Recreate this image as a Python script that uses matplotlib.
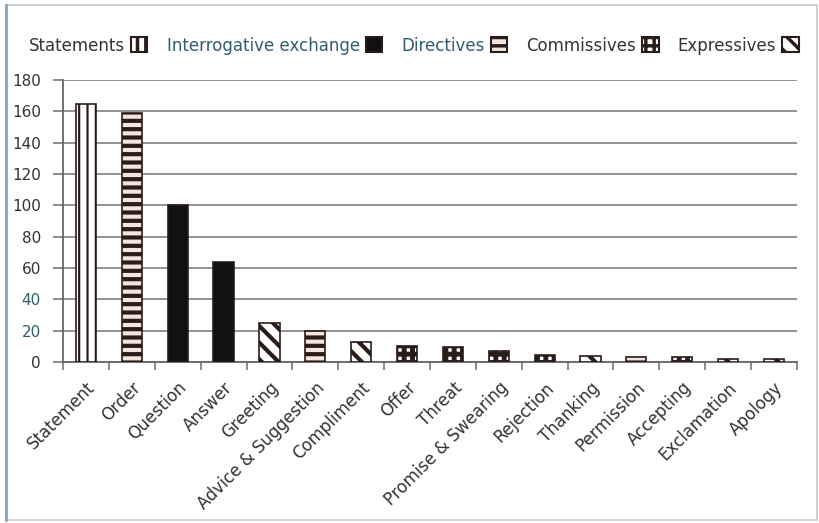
"""Frequency of speech-act categories, grouped by speech-act type."""

import matplotlib.pyplot as plt
import numpy as np
from matplotlib.patches import Patch, Rectangle

# Categories, their counts and the speech-act group each belongs to
categories = [
    "Statement", "Order", "Question", "Answer", "Greeting",
    "Advice & Suggestion", "Compliment", "Offer", "Threat",
    "Promise & Swearing", "Rejection", "Thanking", "Permission",
    "Accepting", "Exclamation", "Apology",
]
counts = [165, 159, 100, 64, 25, 20, 13, 10, 9.5, 7, 4.5, 3.5, 3, 3, 2, 2]
groups = [
    "Statements", "Directives", "Interrogative exchange", "Interrogative exchange",
    "Expressives", "Directives", "Expressives", "Commissives", "Commissives",
    "Commissives", "Commissives", "Expressives", "Directives",
    "Commissives", "Expressives", "Expressives",
]
legend_order = ["Statements", "Interrogative exchange", "Directives",
                "Commissives", "Expressives"]
yticks = [0, 20, 40, 60, 80, 100, 120, 140, 160, 180]

EDGE = "#2a1c18"
FILL = "#f3e6df"
# group -> (facecolor, hatch, hatch linewidth)
styles = {
    "Statements": ("white", "||", 1.6),
    "Interrogative exchange": ("#111111", None, 1.0),
    "Directives": (FILL, "--", 3.0),
    "Commissives": ("white", "++", 3.5),
    "Expressives": ("white", "\\\\", 3.0),
}

plt.rcParams["font.family"] = ["DejaVu Sans"]
plt.rcParams["hatch.linewidth"] = 2.5

fig = plt.figure(figsize=(8.19, 5.23), dpi=100)
ax = fig.add_axes([0.077, 0.308, 0.896, 0.539])

x = np.arange(len(categories))
for xi, val, grp in zip(x, counts, groups):
    face, hatch, hlw = styles[grp]
    bars = ax.bar(xi, val, width=0.44, color=face, edgecolor=EDGE,
                  linewidth=1.2, hatch=hatch, zorder=3)
    for b in bars:
        if hasattr(b, "set_hatch_linewidth"):
            b.set_hatch_linewidth(hlw)

ax.set_xlim(-0.5, len(categories) - 0.5)
ax.set_ylim(0, 180)
ax.set_yticks(yticks)
ax.yaxis.grid(True, color="#8a8a8a", linewidth=1.3, zorder=0)
ax.set_axisbelow(True)

ax.set_xticks(x)
ax.set_xticklabels(categories, rotation=45, ha="right",
                   rotation_mode="anchor", fontsize=12, color="#333333")
ax.set_xticks(np.arange(len(categories) + 1) - 0.5, minor=True)
ax.tick_params(axis="x", which="major", length=0, pad=12)
ax.tick_params(axis="x", which="minor", length=6, color="#777777", width=1.2)
ax.tick_params(axis="y", length=7, color="#777777", width=1.2,
               labelsize=11, labelcolor="#333333", pad=9)
for lbl in ax.get_yticklabels():
    if lbl.get_text() in ("20", "40"):
        lbl.set_color("#2f5f6e")

for side in ("top", "right"):
    ax.spines[side].set_visible(False)
for side in ("left", "bottom"):
    ax.spines[side].set_color("#666666")
    ax.spines[side].set_linewidth(1.3)

# Legend: label first, swatch after, in one row above the plot
handles = []
for grp in legend_order:
    face, hatch, hlw = styles[grp]
    h = Patch(facecolor=face, edgecolor=EDGE, hatch=hatch, linewidth=1.5)
    if hasattr(h, "set_hatch_linewidth"):
        h.set_hatch_linewidth(hlw)
    handles.append(h)
leg = fig.legend(handles, legend_order, ncol=5, markerfirst=False,
                 frameon=False, fontsize=12, loc="center left",
                 bbox_to_anchor=(0.027, 0.913), handlelength=1.0,
                 handleheight=1.0, handletextpad=0.35, columnspacing=1.15,
                 borderaxespad=0)
for txt in leg.get_texts():
    if txt.get_text() in ("Interrogative exchange", "Directives"):
        txt.set_color("#2f5f6e")
    else:
        txt.set_color("#333333")

# Outer frame of the chart area
fig.patches.append(Rectangle((0.007, 0.005), 0.99, 0.985, transform=fig.transFigure,
                             fill=False, edgecolor="#c8c8c8", linewidth=1.2))
fig.lines.append(plt.Line2D([0.007, 0.007], [0.005, 0.99], transform=fig.transFigure,
                            color="#7fa7c4", linewidth=2))

fig.savefig("out.png", dpi=100)
